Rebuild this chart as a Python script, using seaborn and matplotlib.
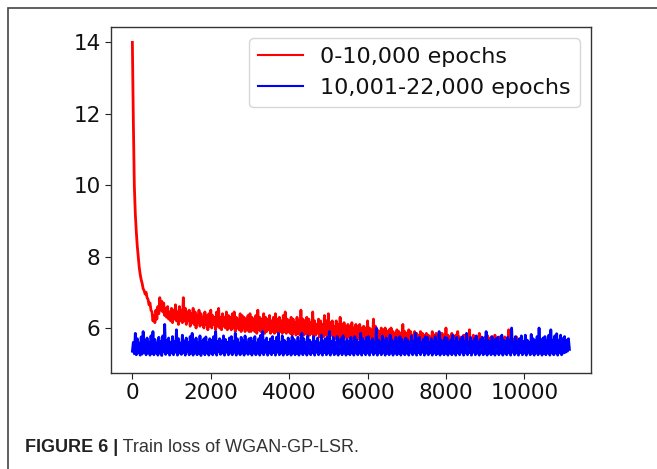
import numpy as np
import pandas as pd
import matplotlib
matplotlib.use("Agg")
import matplotlib.pyplot as plt
import seaborn as sns
from matplotlib.patches import Rectangle

# ---- data ----
red_label = "0-10,000 epochs"
blue_label = "10,001-22,000 epochs"
epoch_step = 25

red_loss = [
    14.0, 11.8, 10.0, 9.2, 8.7, 8.3, 8.0, 7.7, 7.5, 7.35, 7.25, 7.1, 7.05, 6.95, 7.0, 6.85, 6.8, 6.65, 6.7, 6.5,
    6.45, 6.2, 6.35, 6.15, 6.5, 6.25, 6.6, 6.4, 6.85, 6.5, 6.75, 6.45, 6.7, 6.35, 6.55, 6.3, 6.6, 6.25, 6.45, 6.2,
    6.55, 6.15, 6.5, 6.25, 6.65, 6.2, 6.45, 6.1, 6.6, 6.2, 6.5, 6.15, 6.85, 6.2, 6.55, 6.1, 6.45, 6.2, 6.5, 6.05,
    6.4, 6.15, 6.55, 6.1, 6.45, 6.0, 6.35, 6.15, 6.5, 6.05, 6.4, 6.1, 6.3, 6.0, 6.45, 6.1, 6.35, 5.95, 6.4, 6.05,
    6.5, 6.0, 6.35, 6.1, 6.3, 5.95, 6.45, 6.05, 6.55, 6.0, 6.3, 5.95, 6.4, 6.05, 6.3, 6.0, 6.45, 5.95, 6.35, 6.0,
    6.3, 5.95, 6.4, 6.0, 6.45, 5.9, 6.3, 6.0, 6.25, 5.95, 6.4, 5.9, 6.35, 6.0, 6.3, 5.9, 6.25, 5.95, 6.35, 5.9,
    6.4, 5.9, 6.3, 5.95, 6.25, 5.9, 6.35, 5.85, 6.5, 5.95, 6.3, 5.9, 6.25, 5.95, 6.4, 5.85, 6.3, 5.9, 6.25, 5.95,
    6.35, 5.85, 6.2, 5.9, 6.3, 5.85, 6.4, 5.9, 6.25, 5.85, 6.3, 5.9, 6.2, 5.85, 6.35, 5.9, 6.45, 5.85, 6.25, 5.9,
    6.2, 5.85, 6.3, 5.8, 6.25, 5.9, 6.15, 5.8, 6.3, 5.85, 6.2, 5.8, 6.5, 5.85, 6.25, 5.8, 6.2, 5.85, 6.3, 5.8,
    6.25, 5.8, 6.15, 5.85, 6.45, 5.75, 6.2, 5.8, 6.1, 5.85, 6.25, 5.75, 6.2, 5.8, 6.1, 5.75, 6.35, 5.8, 6.2, 5.75,
    6.4, 5.75, 6.15, 5.8, 6.2, 5.75, 6.05, 5.7, 6.2, 5.75, 6.1, 5.7, 6.3, 5.75, 6.1, 5.7, 6.15, 5.75, 6.05, 5.7,
    6.1, 5.75, 6.05, 5.7, 6.15, 5.65, 6.0, 5.7, 6.1, 5.65, 6.05, 5.7, 6.1, 5.65, 6.0, 5.7, 6.05, 5.65, 6.0, 5.7,
    6.2, 5.6, 6.0, 5.65, 5.95, 5.6, 6.25, 5.65, 6.05, 5.6, 5.95, 5.65, 5.9, 5.6, 6.0, 5.55, 5.95, 5.65, 6.0, 5.55,
    5.9, 5.6, 5.95, 5.55, 6.0, 5.6, 5.9, 5.55, 5.85, 5.6, 5.95, 5.55, 5.9, 5.6, 5.85, 5.55, 6.1, 5.6, 5.9, 5.55,
    5.85, 5.55, 5.95, 5.5, 5.9, 5.55, 5.8, 5.5, 5.9, 5.55, 5.85, 5.5, 5.8, 5.55, 5.9, 5.5, 5.85, 5.55, 5.8, 5.5,
    5.85, 5.5, 5.8, 5.55, 5.75, 5.5, 5.9, 5.45, 5.8, 5.5, 5.85, 5.5, 5.75, 5.45, 5.8, 5.5, 5.85, 5.45, 5.8, 5.5,
    6.0, 5.5, 5.8, 5.45, 5.75, 5.5, 5.85, 5.45, 5.7, 5.5, 5.8, 5.45, 5.9, 5.5, 5.75, 5.45, 5.7, 5.5, 5.8, 5.45,
    5.8, 5.45, 5.75, 5.5, 5.95, 5.45, 5.7, 5.4, 5.8, 5.45, 5.75, 5.4, 5.7, 5.45, 5.85, 5.4, 5.75, 5.45, 5.7, 5.4,
    5.75, 5.4, 5.8, 5.45, 5.7, 5.4, 5.75, 5.45, 5.7, 5.4, 5.8, 5.45, 5.65, 5.4, 5.75, 5.45, 5.7, 5.4, 5.65, 5.45,
    5.75, 5.4, 5.7, 5.45, 5.95, 5.4, 5.65, 5.45, 5.7, 5.4, 5.65, 5.35, 5.75, 5.4, 5.6, 5.4, 5.7, 5.35, 5.6, 5.4,
    5.5,
]

blue_loss = [
    5.35, 5.6, 5.28, 5.85, 5.25, 5.7, 5.32, 5.58, 5.24, 5.75, 5.27, 5.9, 5.31, 5.66, 5.25, 5.72, 5.33, 5.6, 5.24, 5.78,
    5.3, 5.9, 5.25, 5.68, 5.32, 5.58, 5.24, 5.74, 5.3, 5.62, 5.23, 5.78, 5.33, 6.1, 5.26, 5.65, 5.31, 5.72, 5.24, 5.6,
    5.3, 5.76, 5.25, 5.62, 5.32, 5.95, 5.24, 5.7, 5.3, 5.58, 5.26, 5.8, 5.31, 5.64, 5.24, 5.72, 5.33, 5.6, 5.25, 5.76,
    5.3, 5.85, 5.24, 5.66, 5.32, 5.72, 5.25, 5.58, 5.3, 5.78, 5.23, 5.62, 5.31, 5.7, 5.25, 5.75, 5.32, 5.6, 5.24, 5.7,
    5.3, 5.66, 5.25, 5.76, 5.31, 5.9, 5.24, 5.62, 5.33, 5.7, 5.26, 5.64, 5.3, 5.78, 5.24, 5.68, 5.32, 5.6, 5.25, 5.72,
    5.3, 5.76, 5.25, 5.62, 5.32, 5.85, 5.24, 5.7, 5.3, 5.58, 5.25, 5.74, 5.31, 5.64, 5.24, 5.78, 5.32, 5.6, 5.26, 5.7,
    5.3, 5.72, 5.24, 5.62, 5.32, 5.76, 5.25, 5.58, 5.3, 5.7, 5.24, 5.8, 5.31, 5.9, 5.25, 5.64, 5.32, 5.72, 5.24, 5.6,
    5.3, 5.7, 5.25, 5.76, 5.31, 5.62, 5.24, 5.74, 5.32, 5.85, 5.25, 5.6, 5.3, 5.78, 5.24, 5.66, 5.31, 5.6, 5.25, 5.72,
    5.3, 5.62, 5.24, 5.76, 5.32, 5.68, 5.25, 5.6, 5.3, 5.74, 5.24, 5.62, 5.31, 5.85, 5.25, 5.7, 5.32, 5.6, 5.24, 5.78,
    5.3, 5.66, 5.25, 5.6, 5.31, 5.76, 5.24, 5.62, 5.32, 5.72, 5.25, 5.58, 5.3, 5.8, 5.24, 5.64, 5.31, 5.7, 5.25, 5.74,
    5.3, 5.9, 5.24, 5.62, 5.32, 5.74, 5.25, 5.6, 5.3, 5.76, 5.24, 5.64, 5.31, 5.7, 5.25, 5.78, 5.32, 5.6, 5.24, 5.68,
    5.3, 5.62, 5.25, 5.74, 5.31, 5.6, 5.24, 5.76, 5.32, 5.66, 5.25, 5.6, 5.3, 5.85, 5.24, 5.7, 5.31, 5.62, 5.25, 5.74,
    5.3, 5.76, 5.24, 5.62, 5.32, 5.7, 5.25, 5.6, 5.3, 6.0, 5.24, 5.66, 5.31, 5.6, 5.25, 5.78, 5.32, 5.64, 5.24, 5.72,
    5.3, 5.6, 5.25, 5.8, 5.31, 5.66, 5.24, 5.6, 5.32, 5.74, 5.25, 5.62, 5.3, 5.76, 5.24, 5.68, 5.31, 5.6, 5.25, 5.72,
    5.3, 5.66, 5.24, 5.6, 5.32, 5.78, 5.25, 5.62, 5.3, 5.85, 5.24, 5.7, 5.31, 5.74, 5.25, 5.6, 5.32, 5.68, 5.24, 5.76,
    5.3, 5.74, 5.25, 5.6, 5.31, 5.7, 5.24, 5.62, 5.32, 5.76, 5.25, 5.6, 5.3, 5.9, 5.24, 5.66, 5.31, 5.62, 5.25, 5.74,
    5.3, 5.72, 5.24, 5.6, 5.32, 5.66, 5.25, 5.8, 5.3, 5.62, 5.24, 5.74, 5.31, 5.6, 5.25, 5.7, 5.32, 5.76, 5.24, 5.62,
    5.3, 5.85, 5.25, 5.6, 5.31, 5.74, 5.24, 5.62, 5.32, 5.7, 5.25, 5.78, 5.3, 5.6, 5.24, 5.68, 5.31, 5.74, 5.25, 5.62,
    5.3, 5.9, 5.24, 5.66, 5.32, 5.6, 5.25, 5.76, 5.3, 5.62, 5.24, 5.7, 5.31, 5.74, 5.25, 5.6, 5.32, 5.8, 5.24, 5.66,
    5.3, 5.62, 5.25, 5.74, 5.31, 5.66, 5.24, 6.0, 5.32, 5.6, 5.25, 5.76, 5.3, 5.64, 5.24, 5.7, 5.31, 5.78, 5.25, 5.62,
    5.3, 5.8, 5.24, 5.66, 5.32, 5.6, 5.25, 5.82, 5.3, 5.7, 5.24, 5.64, 5.31, 5.76, 5.25, 6.0, 5.32, 5.66, 5.24, 5.72,
    5.3, 5.76, 5.25, 5.64, 5.31, 5.8, 5.24, 5.95, 5.32, 5.66, 5.25, 5.78, 5.3, 5.84, 5.24, 5.66, 5.31, 5.8, 5.25, 5.7,
    5.3, 5.76, 5.32, 5.66, 5.35, 5.7, 5.4,
]

x_ticks = [0, 2000, 4000, 6000, 8000, 10000]
y_ticks = [6, 8, 10, 12, 14]
caption_bold = "FIGURE 6 |"
caption_text = " Train loss of WGAN-GP-LSR."

red_df = pd.DataFrame({"epoch": np.arange(len(red_loss)) * epoch_step, "loss": red_loss})
blue_df = pd.DataFrame({"epoch": np.arange(len(blue_loss)) * epoch_step, "loss": blue_loss})

# ---- figure ----
W, H = 657, 469
fig = plt.figure(figsize=(W / 100, H / 100), dpi=100)
ax = fig.add_axes([111 / W, 1 - 373 / H, (591 - 111) / W, (373 - 27) / H])

sns.lineplot(data=red_df, x="epoch", y="loss", ax=ax, color="#ff0000",
             linewidth=2.0, label=red_label, estimator=None)
sns.lineplot(data=blue_df, x="epoch", y="loss", ax=ax, color="#0000ff",
             linewidth=2.0, label=blue_label, estimator=None)

ax.set_xlim(-545, 11700)
ax.set_ylim(4.74, 14.43)
ax.set_xticks(x_ticks)
ax.set_yticks(y_ticks)
ax.set_xlabel("")
ax.set_ylabel("")
ax.tick_params(labelsize=15.5, length=4, width=0.8, colors="#222222", labelcolor="#111111")
for s in ax.spines.values():
    s.set_color("#333333")
    s.set_linewidth(1.0)

leg = ax.legend(loc="upper right", fontsize=16, frameon=True, fancybox=True)
leg.get_frame().set_edgecolor("#cccccc")
for line in leg.get_lines():
    line.set_linewidth(1.5)
for t in leg.get_texts():
    t.set_color("#111111")

# outer panel frame (cropped on right and bottom)
fig.add_artist(Rectangle((8 / W, -0.05), 1.2, 1 - 8 / H + 0.05, transform=fig.transFigure,
                         fill=False, edgecolor="#444444", linewidth=1.2))

# caption
fam = ["Liberation Sans Narrow", "Liberation Sans", "DejaVu Sans"]
t1 = fig.text(25 / W, 1 - 452 / H, caption_bold, fontsize=13, fontweight="bold",
              family=fam, color="#222222", va="baseline")
fig.canvas.draw()
bb = t1.get_window_extent()
fig.text(bb.x1 / W, 1 - 452 / H, caption_text, fontsize=13, family=fam,
         color="#333333", va="baseline")

fig.savefig("out.png", dpi=100)
